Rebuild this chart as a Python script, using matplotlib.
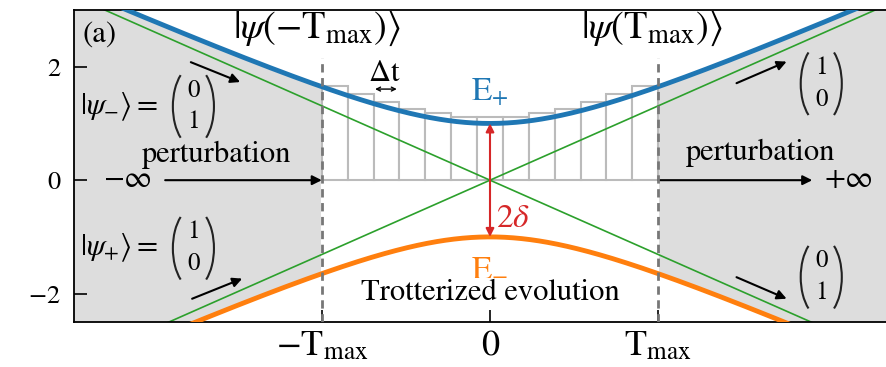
import matplotlib
matplotlib.use('Agg')
import matplotlib.pyplot as plt
from matplotlib.patches import Arc
import numpy as np

plt.rcParams['font.family'] = 'STIXGeneral'
plt.rcParams['mathtext.fontset'] = 'stix'

# model parameters
delta = 1.0
t_max = 1.31

# bar heights (Trotter steps), left to right
bar_heights = [1.66, 1.52, 1.38, 1.26, 1.19, 1.12, 1.11, 1.12, 1.19, 1.26, 1.38, 1.52, 1.66]

x_ticks = [-t_max, 0, t_max]
x_ticklabels = [r'$-\mathrm{T}_{\mathrm{max}}$', '0', r'$\mathrm{T}_{\mathrm{max}}$']
y_ticks = [-2, 0, 2]

blue = '#1f77b4'
orange = '#ff7f0e'
green = '#2ca02c'
red = '#d62728'

fig = plt.figure(figsize=(8.86, 3.67), dpi=100)
ax = fig.add_axes([74/886, 45/367, 832/886, 312/367])

t = np.linspace(-3.3, 3.3, 600)
e_plus = np.sqrt(t**2 + delta**2)
e_minus = -e_plus

# shaded perturbation regions
ax.fill_between(t, e_minus, e_plus, where=(t <= -t_max), color='#dddddd', lw=0)
ax.fill_between(t, e_minus, e_plus, where=(t >= t_max), color='#dddddd', lw=0)

# trotter bars
n = len(bar_heights)
dt = 2 * t_max / n
centers = -t_max + dt / 2 + dt * np.arange(n)
ax.bar(centers, bar_heights, width=dt, facecolor='white', edgecolor='#bbbbbb', lw=1.5, zorder=1)

# diabatic lines
ax.plot(t, t, color=green, lw=1.2, zorder=2)
ax.plot(t, -t, color=green, lw=1.2, zorder=2)

# adiabatic energies
ax.plot(t, e_plus, color=blue, lw=3.5, zorder=3)
ax.plot(t, e_minus, color=orange, lw=3.5, zorder=3)

# dashed boundaries
for xv in [-t_max, t_max]:
    ax.plot([xv, xv], [-2.5, 2.15], color='#777777', lw=2, ls=(0, (3, 2)), zorder=4)

arrow = dict(arrowstyle='-|>', color='black', lw=1.5, mutation_scale=14, shrinkA=0, shrinkB=0)
ax.annotate('', xy=(-t_max, 0), xytext=(-2.53, 0), arrowprops=arrow)
ax.annotate('', xy=(2.51, 0), xytext=(t_max, 0), arrowprops=arrow)
ax.annotate('', xy=(-1.946, 1.73), xytext=(-2.33, 2.08), arrowprops=arrow)
ax.annotate('', xy=(-1.93, -1.735), xytext=(-2.32, -2.09), arrowprops=arrow)
ax.annotate('', xy=(2.31, 2.09), xytext=(1.92, 1.71), arrowprops=arrow)
ax.annotate('', xy=(2.31, -2.09), xytext=(1.92, -1.71), arrowprops=arrow)

# gap arrow
ax.annotate('', xy=(0, delta), xytext=(0, -delta),
            arrowprops=dict(arrowstyle='<|-|>', color=red, lw=1.5, mutation_scale=12,
                            shrinkA=0, shrinkB=0), zorder=5)
# dt arrow
ax.annotate('', xy=(-0.726, 1.606), xytext=(-0.895, 1.606),
            arrowprops=dict(arrowstyle='<->', color='black', lw=1.0, mutation_scale=7,
                            shrinkA=0, shrinkB=0))

# bracket shape: half-width / half-height of the ellipse (data units)
pa, pb = 0.17, 0.72
# Arc angles are true angles, convert from parametric +-50 deg
ang = np.degrees(np.arctan(pb / pa * np.tan(np.radians(50))))


def vec(x, y, top, bottom):
    # column vector: two digits inside tall round brackets
    ax.text(x, y + 0.28, str(top), fontsize=18, ha='center', va='center')
    ax.text(x, y - 0.28, str(bottom), fontsize=18, ha='center', va='center')
    ax.add_patch(Arc((x + 0.01, y), 2 * pa, 2 * pb, theta1=180 - ang, theta2=180 + ang,
                     lw=1.5, color='#222222'))
    ax.add_patch(Arc((x - 0.01, y), 2 * pa, 2 * pb, theta1=-ang, theta2=ang,
                     lw=1.5, color='#222222'))


fs = 22
ax.text(-3.17, 2.56, '(a)', fontsize=22, ha='left', va='center')
ax.text(-1.35, 2.67, r'$|\psi(-\mathrm{T}_{\mathrm{max}})\rangle$', fontsize=27.5, ha='center', va='center')
ax.text(1.26, 2.67, r'$|\psi(\mathrm{T}_{\mathrm{max}})\rangle$', fontsize=27.5, ha='center', va='center')
ax.text(-0.82, 1.75, r'$\Delta\mathrm{t}$', fontsize=22, ha='center', va='baseline')
ax.text(0.0, 1.41, r'$\mathrm{E}_{+}$', fontsize=24, ha='center', va='baseline', color=blue)
ax.text(0.0, -1.68, r'$\mathrm{E}_{-}$', fontsize=24, ha='center', va='baseline', color=orange)
ax.text(0.05, -0.82, r'$2\delta$', fontsize=24, ha='left', va='baseline', color=red)
ax.text(0.0, -2.12, 'Trotterized evolution', fontsize=fs, ha='center', va='baseline')

ax.text(-3.19, 1.29, r'$|\psi_{-}\rangle =$', fontsize=fs, ha='left', va='center')
vec(-2.31, 1.30, 0, 1)
ax.text(-3.19, -1.2, r'$|\psi_{+}\rangle =$', fontsize=fs, ha='left', va='center')
vec(-2.31, -1.20, 1, 0)
vec(2.58, 1.70, 1, 0)
vec(2.58, -1.71, 0, 1)
ax.text(-2.13, 0.32, 'perturbation', fontsize=fs, ha='center', va='baseline')
ax.text(2.11, 0.35, 'perturbation', fontsize=fs, ha='center', va='baseline')
ax.text(-2.82, 0, r'$-\infty$', fontsize=fs, ha='center', va='center')
ax.text(2.79, 0, r'$+\infty$', fontsize=fs, ha='center', va='center')

ax.set_xlim(-3.24, 3.24)
ax.set_ylim(-2.5, 3.0)
ax.set_xticks(x_ticks)
ax.set_xticklabels(x_ticklabels, fontsize=26)
ax.set_yticks(y_ticks)
ax.set_yticklabels([r'$-2$', '0', '2'], fontsize=19)
ax.tick_params(direction='in', length=9, width=1.2)
ax.tick_params(axis='y', pad=10)
ax.tick_params(axis='x', pad=6)
for s in ax.spines.values():
    s.set_linewidth(1.3)

fig.savefig('out.png', dpi=100)
